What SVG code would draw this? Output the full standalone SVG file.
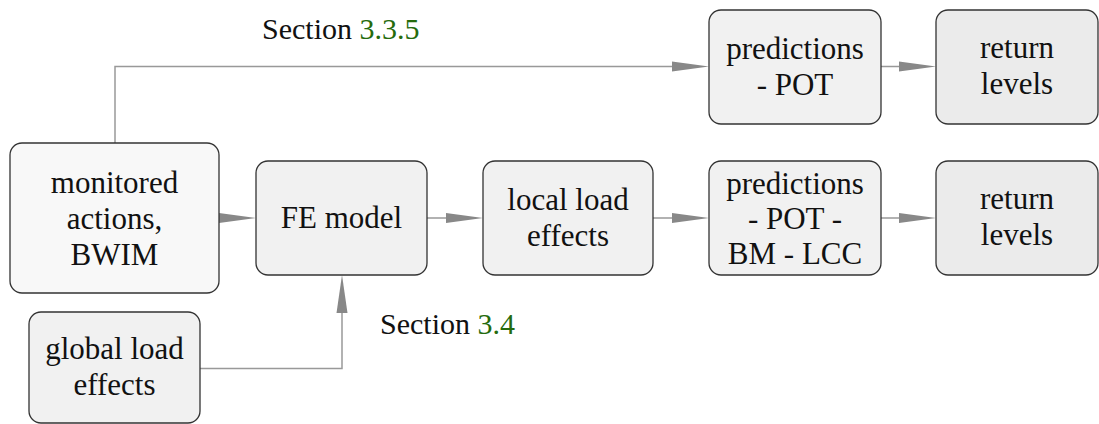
<svg xmlns="http://www.w3.org/2000/svg" width="1099" height="424" viewBox="0 0 1099 424">
<style>
.box{stroke:#333;stroke-width:1.3}
.f1{fill:#f8f8f8}.f2{fill:#f1f1f1}.f3{fill:#ebebeb}
text{font-family:"Liberation Serif","Times New Roman",serif;font-size:31px;fill:#111;text-anchor:middle}
.lbl{text-anchor:start;font-size:30px}
.g{fill:#256b0d}
.c{fill:none;stroke:#999;stroke-width:1.5}
.ah{fill:#888}
</style>
<rect width="1099" height="424" fill="#fff"/>
<g id="connectors">
<path class="c" d="M115 143 V66.5 H690"/>
<polygon class="ah" points="672,61.5 709,66.5 672,71.5"/>
<path class="c" d="M881 66.5 H920"/>
<polygon class="ah" points="899,61.5 936,66.5 899,71.5"/>
<path class="c" d="M219 218 H240"/>
<polygon class="ah" points="219,213 256,218 219,223"/>
<path class="c" d="M427 218 H465"/>
<polygon class="ah" points="446,213 483,218 446,223"/>
<path class="c" d="M653 218 H690"/>
<polygon class="ah" points="672,213 709,218 672,223"/>
<path class="c" d="M881 218 H920"/>
<polygon class="ah" points="899,213 936,218 899,223"/>
<path class="c" d="M200 368.5 H342 V295"/>
<polygon class="ah" points="336.5,313 342,275 347.5,313"/>
</g>
<g id="label-335"><text class="lbl" x="262" y="39">Section <tspan class="g">3.3.5</tspan></text></g>
<g id="label-34"><text class="lbl" x="380" y="334">Section <tspan class="g">3.4</tspan></text></g>
<g id="monitored">
<rect class="box f1" x="10" y="143" width="209" height="150" rx="12"/>
<text x="114.5" y="193">monitored</text>
<text x="114.5" y="229">actions,</text>
<text x="114.5" y="265">BWIM</text>
</g>
<g id="global">
<rect class="box f2" x="29" y="312" width="171" height="111" rx="12"/>
<text x="114.5" y="359">global load</text>
<text x="114.5" y="395">effects</text>
</g>
<g id="fe">
<rect class="box f2" x="256" y="161" width="171" height="114" rx="12"/>
<text x="341.5" y="228">FE model</text>
</g>
<g id="local">
<rect class="box f2" x="483" y="161" width="170" height="114" rx="12"/>
<text x="568" y="210">local load</text>
<text x="568" y="246">effects</text>
</g>
<g id="pred2">
<rect class="box f2" x="709" y="161" width="172" height="114" rx="12"/>
<text x="795" y="194">predictions</text>
<text x="795" y="229">- POT -</text>
<text x="795" y="264">BM - LCC</text>
</g>
<g id="return2">
<rect class="box f3" x="936" y="161" width="162" height="114" rx="12"/>
<text x="1017" y="209">return</text>
<text x="1017" y="245">levels</text>
</g>
<g id="pred1">
<rect class="box f2" x="709" y="10" width="172" height="114" rx="12"/>
<text x="795" y="59">predictions</text>
<text x="795" y="95">- POT</text>
</g>
<g id="return1">
<rect class="box f3" x="936" y="10" width="162" height="114" rx="12"/>
<text x="1017" y="58">return</text>
<text x="1017" y="94">levels</text>
</g>
</svg>
